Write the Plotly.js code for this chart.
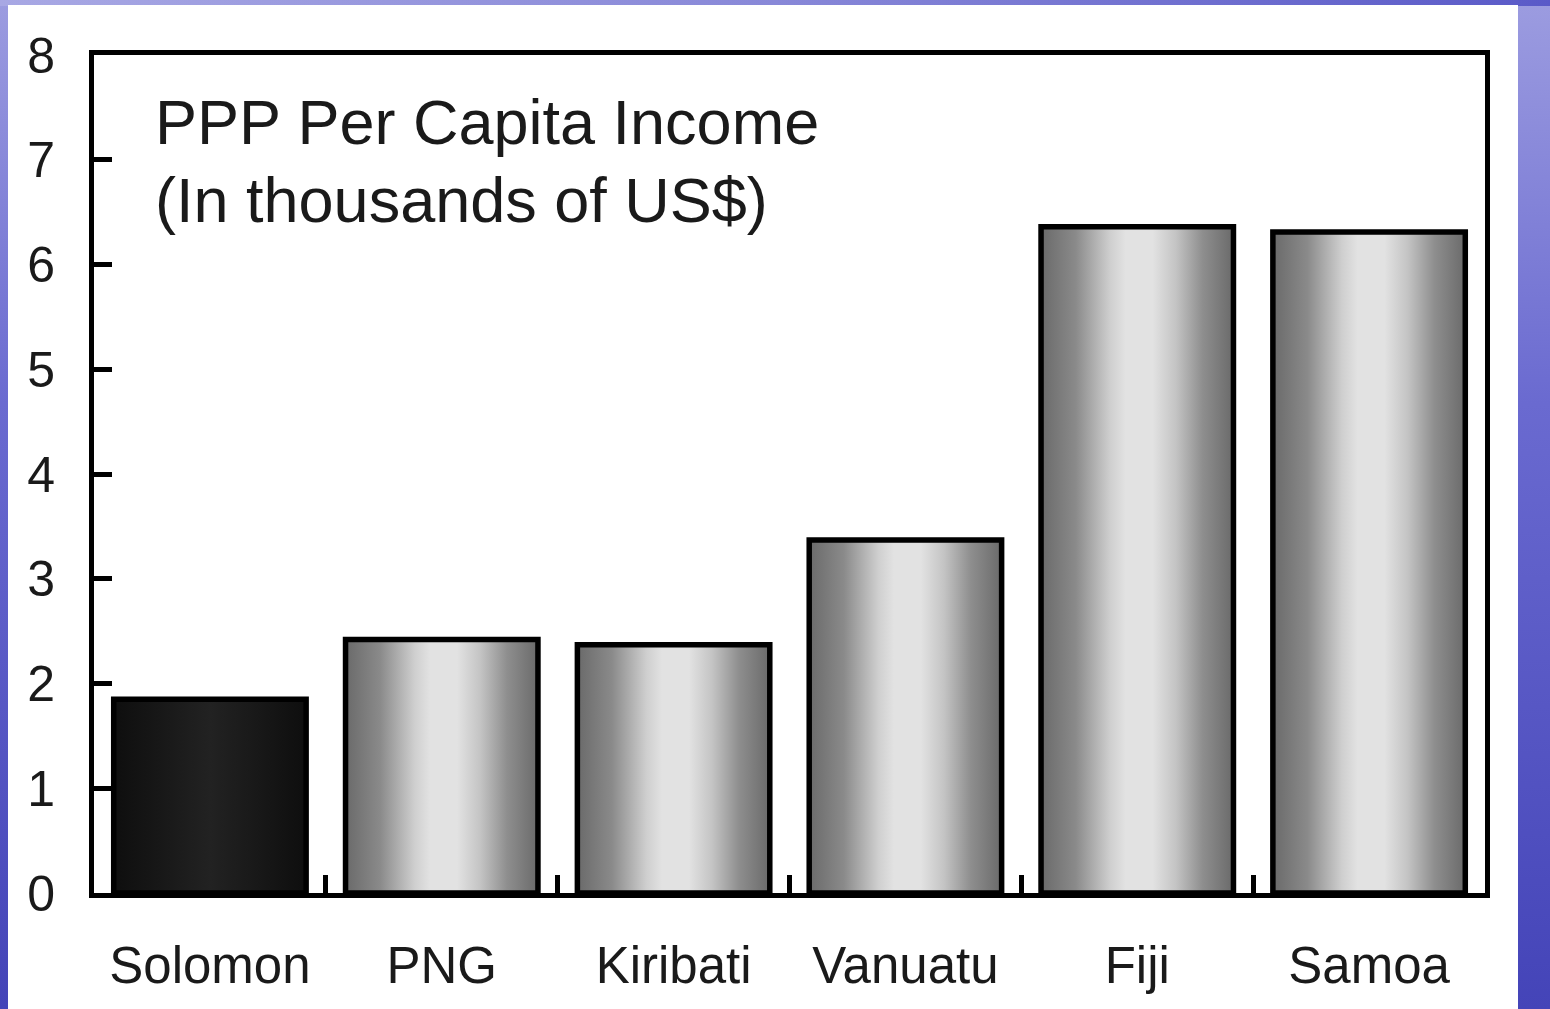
<!DOCTYPE html>
<html>
<head>
<meta charset="utf-8">
<script src="https://cdn.plot.ly/plotly-3.0.1.min.js"></script>
<style>
  html, body { margin: 0; padding: 0; width: 1550px; height: 1009px; overflow: hidden; }
  body {
    background: linear-gradient(180deg, #9c9ce0 0%, #6a6ad0 40%, #4444b8 100%);
    position: relative;
  }
  #topstrip {
    position: absolute; left: 0; top: 0; width: 1550px; height: 6px;
    background: linear-gradient(90deg, #a8a8e4 0%, #8888d8 50%, #5a5ac8 100%);
  }
  #chart { position: absolute; left: 8px; top: 5px; width: 1510px; height: 1004px; background: #fff; }
</style>
</head>
<body>
<div id="topstrip"></div>
<div id="chart"></div>
<script>
const categories = ["Solomon", "PNG", "Kiribati", "Vanuatu", "Fiji", "Samoa"];
const incomeThousandsUSD = [1.85, 2.42, 2.37, 3.37, 6.36, 6.31];
const yTickValues = [0, 1, 2, 3, 4, 5, 6, 7, 8];
const titleLines = ["PPP Per Capita Income", "(In thousands of US$)"];

const FONT = "Liberation Sans, Arial, Helvetica, sans-serif";
const baseColors = categories.map((c, i) => i === 0 ? "#1a1a1a" : "#aaaaaa");

const trace = {
  type: "bar",
  x: categories,
  y: incomeThousandsUSD,
  width: 0.83,
  marker: { color: baseColors, line: { color: "#000", width: 5.5 } },
  hoverinfo: "x+y"
};

// plot area (page px): left 94, right 1485, top 55, bottom 893
const plotTop = 55, plotBottom = 893, plotH = plotBottom - plotTop;
const plotLeft = 94, plotW = 1485 - 94;
function py(p) { return (plotBottom - p) / plotH; }
function px(p) { return (p - plotLeft) / plotW; }

const layout = {
  width: 1510, height: 1004,
  paper_bgcolor: "#ffffff", plot_bgcolor: "#ffffff",
  margin: { l: 86, r: 33, t: 50, b: 116, pad: 0 },
  showlegend: false,
  bargap: 0.17,
  xaxis: {
    type: "category",
    range: [-0.5, 5.5],
    showline: true, linecolor: "#000", linewidth: 5, mirror: true,
    ticks: "inside", tickson: "boundaries", ticklen: 18, tickwidth: 5, tickcolor: "#000",
    showgrid: false, zeroline: false,
    tickfont: { family: FONT, size: 51, color: "#1a1a1a" },
    ticklabelstandoff: 24,
    tickangle: 0
  },
  yaxis: {
    range: [0, 8],
    tickvals: yTickValues,
    ticktext: yTickValues.map(String),
    showline: true, linecolor: "#000", linewidth: 5, mirror: true,
    ticks: "inside", ticklen: 18, tickwidth: 5, tickcolor: "#000",
    showgrid: false, zeroline: false,
    tickfont: { family: FONT, size: 50, color: "#1a1a1a" },
    ticklabelstandoff: 24
  },
  annotations: [
    { xref: "paper", yref: "paper", x: px(153), y: py(122), xanchor: "left", yanchor: "middle",
      text: titleLines[0], showarrow: false, font: { family: FONT, size: 63, color: "#1a1a1a" } },
    { xref: "paper", yref: "paper", x: px(153), y: py(200), xanchor: "left", yanchor: "middle",
      text: titleLines[1], showarrow: false, font: { family: FONT, size: 63, color: "#1a1a1a" } }
  ]
};

Plotly.newPlot("chart", [trace], layout, { displayModeBar: false, staticPlot: true }).then(function (gd) {
  const svg = gd.querySelector("svg.main-svg");
  const NS = "http://www.w3.org/2000/svg";
  let defs = svg.querySelector("defs");
  if (!defs) { defs = document.createElementNS(NS, "defs"); svg.insertBefore(defs, svg.firstChild); }
  function grad(id, stops) {
    const g = document.createElementNS(NS, "linearGradient");
    g.setAttribute("id", id);
    g.setAttribute("x1", "0"); g.setAttribute("y1", "0");
    g.setAttribute("x2", "1"); g.setAttribute("y2", "0");
    stops.forEach(function (s) {
      const st = document.createElementNS(NS, "stop");
      st.setAttribute("offset", s[0]);
      st.setAttribute("stop-color", s[1]);
      g.appendChild(st);
    });
    defs.appendChild(g);
  }
  grad("gDark", [["0", "#0e0e0e"], ["0.5", "#222222"], ["1", "#0e0e0e"]]);
  grad("gSilver", [["0", "#6a6a6a"], ["0.18", "#8a8a8a"], ["0.36", "#cfcfcf"], ["0.44", "#e2e2e2"], ["0.58", "#e2e2e2"], ["0.7", "#c4c4c4"], ["0.84", "#8e8e8e"], ["1", "#6a6a6a"]]);
  const paths = gd.querySelectorAll(".barlayer .point path");
  paths.forEach(function (p, i) {
    p.style.fill = i === 0 ? "url(#gDark)" : "url(#gSilver)";
    p.style.fillOpacity = 1;
  });
});
</script>
</body>
</html>
